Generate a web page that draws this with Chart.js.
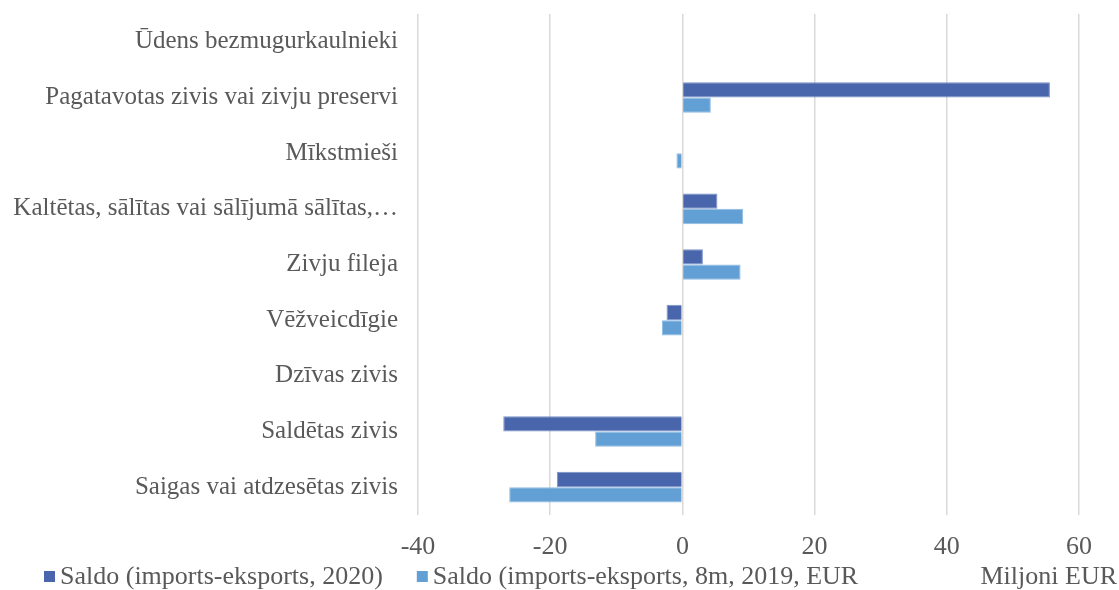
<!DOCTYPE html>
<html>
<head>
<meta charset="utf-8">
<script src="https://cdn.jsdelivr.net/npm/chart.js@4"></script>
<style>
  html, body { margin: 0; padding: 0; background: #fff; }
  #wrap { width: 1119px; height: 590px; }
</style>
</head>
<body>
<div id="wrap"><canvas id="saldoChart"></canvas></div>
<script>
// kategorijas no augšas uz leju
var categories = [
    'Ūdens bezmugurkaulnieki',
    'Pagatavotas zivis vai zivju preservi',
    'Mīkstmieši',
    'Kaltētas, sālītas vai sālījumā sālītas,…',
    'Zivju fileja',
    'Vēžveicdīgie',
    'Dzīvas zivis',
    'Saldētas zivis',
    'Saigas vai atdzesētas zivis'
];
var saldo2020 = [0, 55.6, 0, 5.3, 3.1, -2.4, -0.1, -27.1, -19.0];
var saldo2019 = [0, 4.3, -0.9, 9.2, 8.8, -3.1, -0.1, -13.2, -26.2];
var seriesNames = ['Saldo (imports-eksports, 2020)', 'Saldo (imports-eksports, 8m, 2019, EUR'];
var xTicks = [-40, -20, 0, 20, 40, 60];
var unitLabel = 'Miljoni EUR';

var textColor = '#595959';
var serif = "'Liberation Serif', 'Times New Roman', serif";
var fontSize = 26;

// leģenda un "Miljoni EUR" apakšā vienā rindā
var legendPlugin = {
    id: 'bottomLegend',
    afterDraw: function (chart) {
        var ctx = chart.ctx;
        var y = 577;
        var x = 44;
        ctx.save();
        ctx.font = fontSize + 'px ' + serif;
        ctx.textBaseline = 'middle';
        chart.data.datasets.forEach(function (ds) {
            ctx.fillStyle = ds.backgroundColor;
            ctx.fillRect(x, y - 6, 11, 11);
            ctx.fillStyle = textColor;
            ctx.textAlign = 'left';
            ctx.fillText(ds.label, x + 16, y);
            x += 16 + ctx.measureText(ds.label).width + 34;
        });
        ctx.textAlign = 'right';
        ctx.fillText(unitLabel, chart.width - 2, y);
        ctx.restore();
    }
};

document.addEventListener('DOMContentLoaded', function () {
    var ctx = document.getElementById('saldoChart').getContext('2d');
    new Chart(ctx, {
        type: 'bar',
        data: {
            labels: categories,
            datasets: [{
                label: seriesNames[0],
                data: saldo2020,
                backgroundColor: '#4966ad',
                borderColor: '#7a90c7',
                borderWidth: 1
            }, {
                label: seriesNames[1],
                data: saldo2019,
                backgroundColor: '#619fd5',
                borderColor: '#8fbbe3',
                borderWidth: 1
            }]
        },
        options: {
            indexAxis: 'y',
            responsive: true,
            maintainAspectRatio: false,
            animation: false,
            layout: { padding: { top: 14, right: 40, left: 0, bottom: 27 } },
            datasets: { bar: { categoryPercentage: 0.55, barPercentage: 1.0 } },
            scales: {
                x: {
                    min: -40,
                    max: 60,
                    afterBuildTicks: function (axis) {
                        axis.ticks = xTicks.map(function (v) { return { value: v }; });
                    },
                    afterFit: function (axis) {
                        axis.height = 48;
                    },
                    grid: { color: '#d9d9d9', lineWidth: 1.5, drawTicks: false },
                    border: { display: false },
                    ticks: {
                        color: textColor,
                        font: { family: serif, size: fontSize },
                        padding: 17
                    }
                },
                y: {
                    afterFit: function (axis) {
                        axis.width = 418;
                        axis.paddingTop = 0;
                        axis.paddingBottom = 0;
                    },
                    grid: { display: false, drawTicks: false },
                    border: { display: false },
                    ticks: {
                        color: textColor,
                        font: { family: serif, size: 25 },
                        padding: 20
                    }
                }
            },
            plugins: {
                legend: { display: false },
                tooltip: { enabled: false }
            }
        },
        plugins: [legendPlugin]
    });
});
</script>
</body>
</html>
